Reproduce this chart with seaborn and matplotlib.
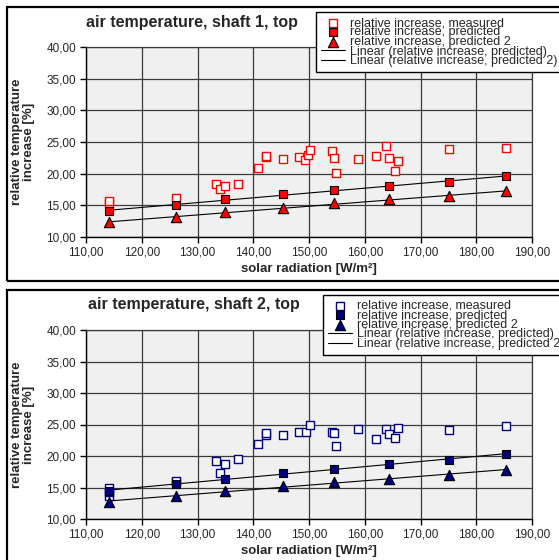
import matplotlib
matplotlib.use('Agg')
import matplotlib.pyplot as plt
from matplotlib.patches import Rectangle
from matplotlib.ticker import FuncFormatter, MultipleLocator
import seaborn as sns

# solar radiation [W/m²] of the predicted points (same for both shafts)
x_pred = [114.1, 126.2, 135.0, 145.4, 154.5, 164.4, 175.1, 185.3]

# shaft 1
x_meas_1 = [114.1, 114.1, 126.2, 133.4, 134.0, 134.9, 137.2, 140.8, 142.2, 142.2,
            145.4, 148.2, 149.3, 149.8, 150.1, 154.2, 154.4, 154.8, 158.7, 162.0,
            163.9, 164.4, 166.0, 165.4, 175.1, 185.3]
y_meas_1 = [15.3, 15.7, 16.2, 18.4, 17.6, 18.1, 18.4, 20.85, 22.6, 22.8,
            22.3, 22.7, 22.2, 23.0, 23.7, 23.6, 22.5, 20.05, 22.3, 22.85,
            24.4, 22.4, 22.0, 20.5, 23.9, 24.1]
y_pred_1 = [14.05, 15.1, 15.95, 16.75, 17.4, 18.05, 18.7, 19.6]
y_pred2_1 = [12.3, 13.1, 13.95, 14.6, 15.3, 16.0, 16.4, 17.2]

# shaft 2
x_meas_2 = [114.1, 114.1, 114.1, 126.2, 126.2, 133.4, 134.0, 134.9, 137.2, 140.8,
            142.2, 142.2, 145.4, 148.2, 149.5, 150.1, 154.2, 154.4, 154.8, 158.7,
            162.0, 163.9, 164.4, 166.0, 165.4, 175.1, 185.3]
y_meas_2 = [13.6, 14.3, 14.9, 15.8, 16.1, 19.15, 17.35, 18.7, 19.5, 21.9,
            23.4, 23.6, 23.3, 23.8, 23.8, 24.9, 23.75, 23.6, 21.6, 24.3,
            22.7, 24.3, 23.55, 24.4, 22.9, 24.2, 24.7]
y_pred_2 = [14.4, 15.55, 16.4, 17.25, 18.0, 18.7, 19.35, 20.35]
y_pred2_2 = [12.7, 13.65, 14.45, 15.2, 15.8, 16.4, 17.0, 17.8]

titles = ['air temperature, shaft 1, top', 'air temperature, shaft 2, top']
colors = ['#FF0000', '#000080']
labels = ['relative increase, measured', 'relative increase, predicted',
          'relative increase, predicted 2', 'Linear (relative increase, predicted)',
          'Linear (relative increase, predicted 2)']

sns.set_style('white')
plt.rcParams['font.family'] = ['Liberation Sans', 'DejaVu Sans']

W, H = 559, 560
fig = plt.figure(figsize=(W / 100, H / 100), dpi=100)
fig.patch.set_facecolor('white')

# outer chart frames
fig.add_artist(Rectangle((7 / W, 1 - 281 / H), 1.0, 274 / H, transform=fig.transFigure,
                         fill=False, lw=1.6, edgecolor='black'))
fig.add_artist(Rectangle((7 / W, 1 - 570 / H), 1.0, 280 / H, transform=fig.transFigure,
                         fill=False, lw=1.6, edgecolor='black'))

ax1 = fig.add_axes([86 / W, 1 - 237 / H, 446 / W, 190 / H])
ax2 = fig.add_axes([86 / W, 1 - 519 / H, 446 / W, 189 / H])

panels = [
    (ax1, x_meas_1, y_meas_1, y_pred_1, y_pred2_1, 22, 192, 316, 12),
    (ax2, x_meas_2, y_meas_2, y_pred_2, y_pred2_2, 305, 194, 323, 295),
]

comma = FuncFormatter(lambda v, p: f'{v:.2f}'.replace('.', ','))

for i, (ax, xm, ym, yp, yp2, ty, tx, lx, ly) in enumerate(panels):
    c = colors[i]
    ax.set_facecolor('#F0F0F0')

    sns.regplot(x=x_pred, y=yp, ax=ax, scatter=False, ci=None, truncate=True,
                color='black', label=labels[3], line_kws={'lw': 0.8, 'zorder': 3})
    sns.regplot(x=x_pred, y=yp2, ax=ax, scatter=False, ci=None, truncate=True,
                color='black', label=labels[4], line_kws={'lw': 0.8, 'zorder': 3})

    sns.scatterplot(x=xm, y=ym, ax=ax, marker='s', s=36, color='white',
                    edgecolor=c, linewidth=1, label=labels[0], zorder=4)
    sns.scatterplot(x=x_pred, y=yp, ax=ax, marker='s', s=34, color=c,
                    edgecolor='black', linewidth=0.8, label=labels[1], zorder=4)
    sns.scatterplot(x=x_pred, y=yp2, ax=ax, marker='^', s=55, color=c,
                    edgecolor='black', linewidth=0.8, label=labels[2], zorder=4)

    ax.set_xlim(110, 190)
    ax.set_ylim(10, 40)
    ax.xaxis.set_major_locator(MultipleLocator(10))
    ax.yaxis.set_major_locator(MultipleLocator(5))
    ax.xaxis.set_major_formatter(comma)
    ax.yaxis.set_major_formatter(comma)
    ax.grid(True, color='#3a3a3a', lw=0.9)
    ax.set_axisbelow(True)
    for s in ['top', 'right']:
        ax.spines[s].set_color('#3a3a3a')
        ax.spines[s].set_linewidth(0.9)
    for s in ['left', 'bottom']:
        ax.spines[s].set_color('black')
        ax.spines[s].set_linewidth(1.0)
    ax.tick_params(axis='both', which='major', direction='out', length=4, width=1,
                   color='black', labelsize=8.5, pad=3, left=True, bottom=True)

    ax.set_xlabel('solar radiation [W/m²]', fontsize=9.5, fontweight='bold', labelpad=3)
    ax.set_ylabel('relative temperature\nincrease [%]', fontsize=9.5, fontweight='bold',
                  labelpad=8, linespacing=1.0)

    fig.text(tx / W, 1 - ty / H, titles[i], ha='center', va='center',
             fontsize=11.5, fontweight='bold')

    handles, labs = ax.get_legend_handles_labels()
    order = [labs.index(l) for l in labels]
    leg = ax.legend([handles[k] for k in order], labels, loc='upper left',
                    bbox_to_anchor=(lx / W, 1 - ly / H), bbox_transform=fig.transFigure,
                    borderaxespad=0, fontsize=9, labelspacing=-0.2, handlelength=1.9,
                    handletextpad=0.45, borderpad=0.4, frameon=True, fancybox=False,
                    framealpha=1, edgecolor='black')
    leg.get_frame().set_linewidth(1.0)
    leg.set_zorder(10)

plt.savefig('out.png', dpi=100)
